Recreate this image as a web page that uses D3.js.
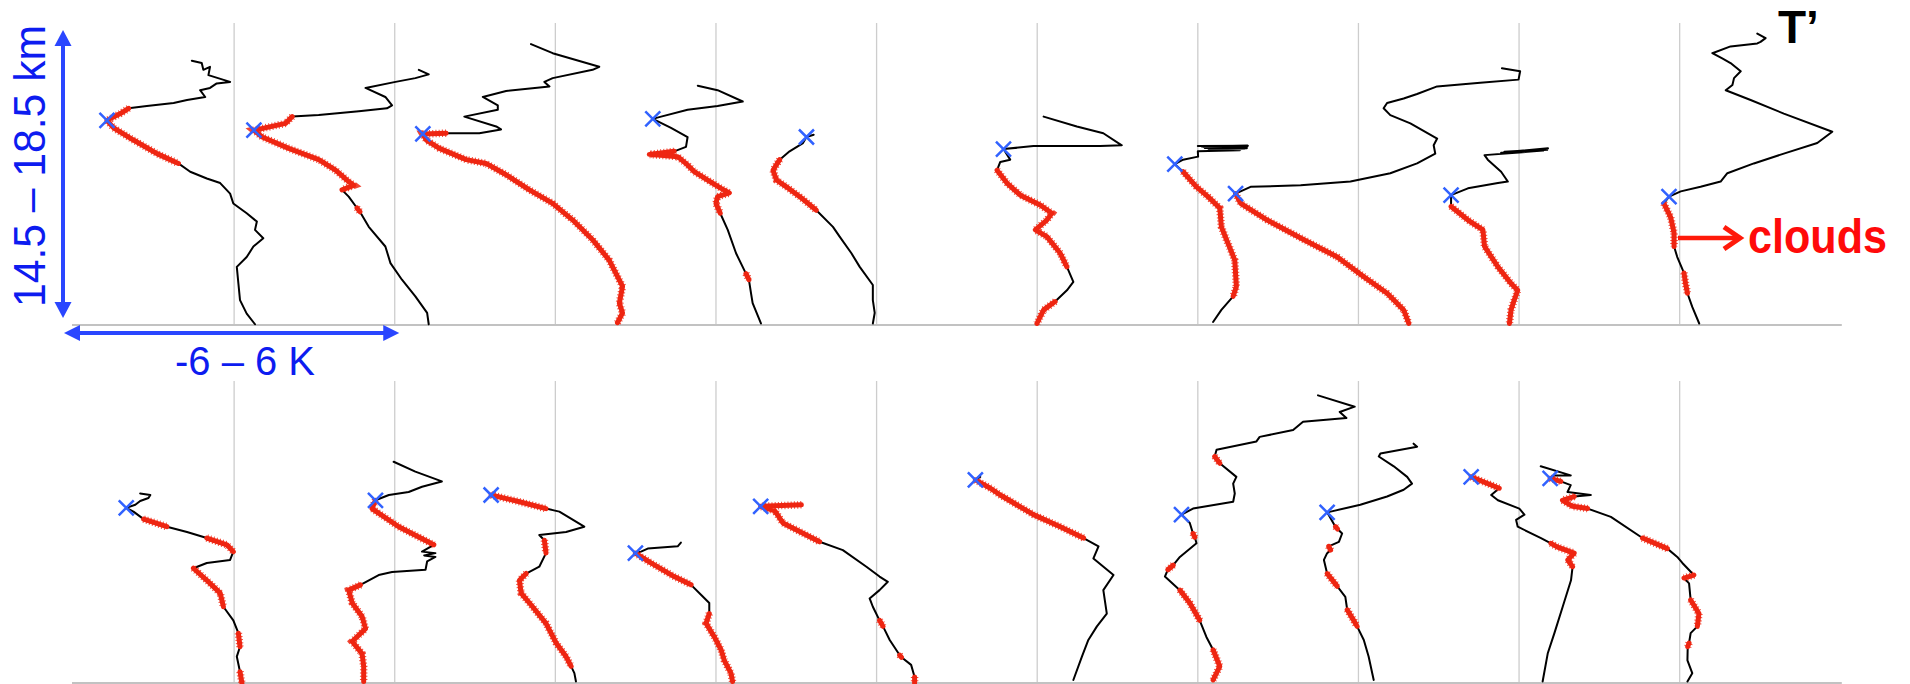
<!DOCTYPE html>
<html>
<head>
<meta charset="utf-8">
<script src="https://cdn.jsdelivr.net/npm/d3@7"></script>
<style>
  html, body { margin: 0; padding: 0; background: #fff; overflow: hidden; }
  text { font-family: "Liberation Sans", Arial, Helvetica, sans-serif; }
</style>
</head>
<body>
<svg id="chart" width="1910" height="684"></svg>
<script>
// Temperature perturbation profiles: each point is [T' (K), altitude (km), cloud flag].
// Profiles are offset horizontally by 6 K steps; the blue cross marks the tropopause.

// ---- upper row ----
const top01 = [[-1.58,18.00,0],[-1.21,17.97,0],[-1.15,17.88,0],[-0.90,17.92,0],[-0.96,17.81,0],[-0.15,17.72,0],[-0.65,17.70,0],[-0.90,17.64,0],[-1.27,17.61,0],[-1.08,17.52,0],[-1.76,17.48,0],[-2.26,17.44,0],[-3.26,17.40,0],[-3.94,17.37,1],[-4.25,17.30,1],[-4.75,17.21,1],[-4.50,17.11,1],[-3.76,16.95,1],[-2.88,16.77,1],[-2.08,16.64,1],[-1.64,16.53,0],[-1.02,16.44,0],[-0.52,16.38,0],[-0.15,16.24,0],[-0.03,16.11,0],[0.47,15.98,0],[0.85,15.87,0],[0.78,15.76,0],[1.09,15.65,0],[0.72,15.54,0],[0.47,15.40,0],[0.10,15.27,0],[0.16,15.05,0],[0.22,14.83,0],[0.47,14.65,0],[0.78,14.51,0]];
const top02 = [[0.90,17.88,0],[1.27,17.82,0],[0.77,17.77,0],[0.03,17.72,0],[-1.09,17.64,0],[-0.35,17.52,0],[-0.10,17.41,0],[-0.29,17.37,0],[-1.34,17.33,0],[-2.84,17.28,0],[-3.83,17.26,1],[-4.08,17.17,1],[-5.26,17.08,1],[-4.95,16.99,1],[-3.96,16.84,1],[-2.84,16.69,1],[-2.21,16.55,1],[-1.72,16.40,1],[-1.53,16.35,1],[-1.97,16.29,1],[-1.72,16.20,0],[-1.41,16.05,1],[-1.30,16.00,1],[-0.97,15.80,0],[-0.35,15.54,0],[-0.16,15.32,0],[0.27,15.10,0],[0.77,14.88,0],[1.21,14.66,0],[1.27,14.51,0]];
const top03 = [[-0.91,18.22,0],[-0.10,18.10,0],[1.64,17.92,0],[1.39,17.88,0],[-0.10,17.77,0],[-0.41,17.72,0],[-0.22,17.66,0],[-1.84,17.60,0],[-2.71,17.52,0],[-2.15,17.41,0],[-2.15,17.35,0],[-3.40,17.26,0],[-2.21,17.13,0],[-2.03,17.09,0],[-2.84,17.04,0],[-4.08,17.04,1],[-4.95,17.03,1],[-4.82,16.95,1],[-4.33,16.84,1],[-3.33,16.69,1],[-2.59,16.64,1],[-1.84,16.49,1],[-0.97,16.29,1],[-0.10,16.11,1],[0.65,15.89,1],[1.39,15.63,1],[2.01,15.36,1],[2.51,15.01,1],[2.39,14.79,1],[2.51,14.66,1],[2.32,14.53,1]];
const top04 = [[-0.68,17.67,0],[0.06,17.61,0],[1.00,17.46,0],[0.06,17.40,0],[-1.06,17.35,0],[-2.05,17.26,0],[-2.36,17.23,0],[-1.68,17.11,0],[-1.06,16.99,0],[-1.12,16.86,0],[-1.56,16.80,1],[-2.49,16.76,1],[-1.43,16.73,1],[-1.06,16.62,1],[-0.81,16.53,1],[-0.31,16.42,1],[0.19,16.31,1],[0.50,16.25,1],[0.06,16.20,1],[0.00,16.11,1],[0.16,15.98,1],[0.44,15.76,0],[0.75,15.45,0],[1.12,15.18,1],[1.23,15.10,1],[1.31,14.92,0],[1.37,14.79,0],[1.68,14.52,0]];
const top05 = [[-2.35,17.02,0],[-2.62,16.99,0],[-2.75,16.91,0],[-3.25,16.80,0],[-3.62,16.69,1],[-3.87,16.55,1],[-3.74,16.42,1],[-3.37,16.33,1],[-2.87,16.20,1],[-2.25,16.02,1],[-1.63,15.80,0],[-1.38,15.67,0],[-0.94,15.45,0],[-0.63,15.27,0],[-0.14,15.03,0],[-0.14,14.83,0],[-0.07,14.66,0],[-0.14,14.52,0]];
const top06 = [[0.24,17.26,0],[1.48,17.13,0],[2.47,17.04,0],[3.16,16.88,0],[2.35,16.87,0],[-0.14,16.87,0],[-1.26,16.83,0],[-1.01,16.69,0],[-1.38,16.66,0],[-1.50,16.55,1],[-1.13,16.38,1],[-0.63,16.22,1],[0.11,16.09,1],[0.55,15.98,1],[0.36,15.89,1],[-0.07,15.76,1],[0.36,15.67,1],[0.86,15.45,1],[1.11,15.27,1],[1.35,15.07,0],[1.11,14.96,0],[0.67,14.81,1],[0.24,14.70,1],[-0.01,14.52,1]];
const top07 = [[0.00,16.87,0],[1.87,16.875,0],[0.15,16.865,0],[1.85,16.865,0],[0.20,16.86,0],[1.80,16.855,0],[0.26,16.845,0],[1.83,16.84,0],[0.40,16.835,0],[1.75,16.835,0],[0.40,16.83,0],[1.70,16.83,0],[0.45,16.82,0],[1.57,16.815,0],[0.00,16.80,0],[0.01,16.73,0],[-0.55,16.69,0],[-0.86,16.63,0],[-0.55,16.53,1],[-0.05,16.33,1],[0.38,16.20,1],[0.82,16.05,1],[0.88,15.80,1],[1.07,15.63,1],[1.38,15.36,1],[1.44,15.01,1],[1.32,14.88,1],[0.88,14.70,0],[0.57,14.54,0]];
const top08 = [[5.36,17.90,0],[6.04,17.86,0],[5.98,17.75,0],[4.55,17.71,0],[2.94,17.66,0],[2.19,17.56,0],[1.69,17.50,0],[1.07,17.44,0],[0.94,17.37,0],[1.19,17.28,0],[1.94,17.17,0],[2.94,16.97,0],[2.81,16.88,0],[2.87,16.77,0],[2.19,16.64,0],[1.19,16.51,0],[-0.30,16.40,0],[-2.16,16.35,0],[-4.03,16.33,0],[-4.59,16.24,1],[-4.40,16.11,1],[-3.41,15.89,1],[-2.04,15.63,1],[-0.79,15.40,1],[0.20,15.14,1],[1.07,14.92,1],[1.69,14.70,1],[1.88,14.52,1]];
const top09 = [[1.08,16.84,0],[-0.49,16.79,0],[1.01,16.825,0],[-0.55,16.795,0],[1.05,16.82,0],[-0.67,16.78,0],[0.90,16.81,0],[-1.29,16.75,0],[-1.17,16.69,0],[-0.67,16.53,0],[-0.42,16.40,0],[-0.79,16.38,0],[-1.91,16.31,0],[-2.54,16.22,0],[-2.54,16.16,0],[-2.54,16.07,1],[-1.91,15.89,1],[-1.35,15.76,1],[-1.29,15.54,1],[-0.79,15.27,1],[-0.30,15.05,1],[-0.05,14.96,1],[-0.18,14.83,1],[-0.30,14.70,1],[-0.36,14.52,1]];
const top10 = [[2.90,18.36,0],[3.21,18.30,0],[3.02,18.25,0],[2.90,18.23,0],[1.90,18.19,0],[1.22,18.10,0],[1.59,18.03,0],[1.90,17.97,0],[2.28,17.86,0],[2.03,17.77,0],[1.97,17.68,0],[1.72,17.61,0],[2.65,17.48,0],[3.89,17.30,0],[5.70,17.06,0],[5.14,16.91,0],[3.89,16.77,0],[2.77,16.64,0],[1.78,16.51,0],[1.53,16.40,0],[0.78,16.33,0],[0.04,16.27,0],[-0.40,16.20,0],[-0.59,16.11,1],[-0.34,15.93,1],[-0.21,15.72,1],[-0.21,15.54,1],[-0.09,15.40,0],[0.16,15.19,1],[0.22,15.05,1],[0.29,14.92,1],[0.47,14.74,0],[0.73,14.52,0]];

// ---- lower row ----
const bot01 = [[-3.51,17.01,0],[-3.13,16.99,0],[-3.20,16.95,0],[-3.51,16.91,0],[-3.69,16.86,0],[-4.03,16.82,0],[-3.76,16.77,0],[-3.38,16.67,1],[-2.51,16.57,1],[-1.76,16.50,0],[-1.02,16.42,1],[-0.27,16.33,1],[-0.03,16.24,1],[-0.15,16.13,0],[-1.02,16.09,0],[-1.52,16.02,1],[-1.02,15.86,1],[-0.52,15.69,1],[-0.40,15.51,1],[-0.03,15.33,0],[0.16,15.16,1],[0.22,14.98,1],[0.10,14.85,0],[0.22,14.65,1],[0.29,14.50,1]];
const bot02 = [[-0.04,17.43,0],[0.77,17.30,0],[1.76,17.17,0],[1.02,17.10,0],[0.52,17.03,0],[-0.22,16.99,0],[-0.72,16.92,1],[-0.85,16.81,1],[0.15,16.57,1],[1.46,16.33,1],[1.02,16.24,0],[1.52,16.22,0],[1.10,16.19,0],[1.52,16.17,0],[1.21,16.11,0],[1.15,16.00,0],[-0.10,15.97,0],[-0.60,15.93,0],[-1.28,15.80,1],[-1.72,15.73,1],[-1.59,15.56,1],[-1.22,15.38,1],[-1.09,15.22,1],[-1.59,15.05,1],[-1.22,14.89,1],[-1.16,14.72,1],[-1.16,14.52,1]];
const bot03 = [[-2.40,16.99,1],[-1.34,16.90,1],[-0.35,16.81,1],[0.15,16.77,0],[1.08,16.57,0],[0.40,16.50,0],[-0.60,16.46,0],[-0.41,16.39,1],[-0.35,16.22,1],[-0.60,16.04,0],[-1.09,15.95,1],[-1.34,15.86,1],[-1.28,15.69,1],[-0.85,15.51,1],[-0.35,15.29,1],[0.03,15.03,1],[0.40,14.85,1],[0.59,14.72,1],[0.71,14.63,0],[0.77,14.52,0]];
const bot04 = [[-1.31,16.36,0],[-1.43,16.31,0],[-2.55,16.28,0],[-2.80,16.24,0],[-3.01,16.22,1],[-2.43,16.09,1],[-1.56,15.91,1],[-0.93,15.80,1],[-0.56,15.67,0],[-0.25,15.56,0],[-0.25,15.42,1],[-0.37,15.29,1],[-0.06,15.11,1],[0.19,14.94,1],[0.31,14.80,1],[0.56,14.63,1],[0.62,14.52,1]];
const bot05 = [[-2.81,16.86,1],[-4.33,16.84,1],[-3.80,16.78,1],[-3.50,16.62,1],[-2.13,16.37,1],[-1.26,16.26,0],[-0.38,16.04,0],[0.11,15.91,0],[0.42,15.84,0],[0.11,15.73,0],[-0.26,15.62,0],[-0.14,15.51,0],[0.11,15.33,1],[0.24,15.25,1],[0.49,15.07,0],[0.86,14.87,1],[0.93,14.84,1],[1.29,14.74,0],[1.42,14.58,1],[1.42,14.50,1]];
const bot06 = [[-2.13,17.23,0],[-2.31,17.19,1],[-1.75,17.08,1],[-1.38,16.99,1],[-0.14,16.73,1],[0.86,16.57,1],[1.73,16.42,1],[2.29,16.31,0],[2.10,16.15,0],[2.85,15.93,0],[2.47,15.73,0],[2.60,15.42,0],[2.23,15.25,0],[1.91,15.07,0],[1.67,14.85,0],[1.35,14.54,0]];
const bot07 = [[4.49,18.31,0],[5.86,18.16,0],[5.30,18.09,0],[5.55,18.01,0],[3.93,17.96,0],[3.56,17.85,0],[2.31,17.76,0],[2.19,17.70,0],[0.70,17.59,0],[0.63,17.50,1],[0.82,17.41,1],[1.44,17.23,0],[1.32,17.14,0],[1.38,17.01,0],[1.32,16.90,0],[-0.18,16.81,0],[-0.61,16.73,0],[-0.30,16.62,0],[-0.18,16.48,1],[-0.11,16.43,1],[-0.05,16.35,0],[-0.67,16.17,0],[-0.92,16.06,1],[-1.12,16.00,1],[-1.23,15.91,0],[-0.67,15.73,1],[-0.30,15.56,1],[0.07,15.33,1],[0.32,15.11,0],[0.57,14.94,1],[0.82,14.72,1],[0.57,14.54,1]];
const bot08 = [[2.06,17.67,0],[2.19,17.63,0],[0.82,17.54,0],[0.76,17.50,0],[1.32,17.37,0],[1.82,17.23,0],[2.00,17.14,0],[1.69,17.06,0],[1.07,16.97,0],[0.07,16.86,0],[-1.04,16.77,0],[-1.17,16.76,0],[-0.86,16.57,1],[-0.78,16.54,1],[-0.61,16.48,0],[-0.73,16.37,0],[-1.11,16.31,1],[-1.04,16.26,1],[-1.17,16.22,0],[-1.29,16.13,0],[-1.17,15.95,1],[-0.79,15.78,1],[-0.49,15.64,0],[-0.42,15.47,1],[-0.18,15.33,1],[-0.05,15.25,1],[0.20,15.07,0],[0.38,14.85,0],[0.57,14.54,0]];
const bot09 = [[-1.72,17.26,0],[-1.79,17.23,1],[-0.74,17.08,1],[-1.04,16.99,0],[-0.79,16.92,0],[0.01,16.81,0],[0.20,16.73,0],[-0.11,16.66,0],[-0.05,16.57,0],[0.82,16.42,0],[1.19,16.35,1],[1.44,16.30,1],[2.06,16.22,1],[1.82,16.13,1],[2.00,16.04,1],[1.94,15.86,0],[1.63,15.51,0],[1.32,15.16,0],[1.07,14.89,0],[0.88,14.52,0]];
const bot10 = [[-5.19,17.37,0],[-4.07,17.25,0],[-4.69,17.25,0],[-4.84,17.21,1],[-4.44,17.17,1],[-4.07,17.12,0],[-4.19,17.03,0],[-3.32,16.99,0],[-3.94,16.97,1],[-4.38,16.92,1],[-4.00,16.84,1],[-3.44,16.81,1],[-2.57,16.70,0],[-1.39,16.42,1],[-0.46,16.28,1],[-0.09,16.17,0],[0.10,16.09,0],[0.53,15.93,1],[0.16,15.89,1],[0.35,15.82,0],[0.41,15.60,1],[0.72,15.42,1],[0.66,15.25,1],[0.41,15.16,0],[0.35,15.03,1],[0.30,14.98,1],[0.29,14.80,0],[0.47,14.63,0],[0.29,14.52,0]];

// Tropopause altitude (km) of each profile
const topTropopause = [17.21, 17.08, 17.03, 17.23, 16.99, 16.83, 16.63, 16.24, 16.22, 16.20];
const bottomTropopause = [16.82, 16.92, 16.99, 16.22, 16.84, 17.19, 16.73, 16.76, 17.23, 17.21];

// Horizontal offset (K) at which each profile is centred; grid lines sit here
const profileCenters = [6, 12, 18, 24, 30, 36, 42, 48, 54, 60];
const offsetDomain = [0, 66];
const altitudeDomain = [14.5, 18.5];

const heightLabel = "14.5 \u2013 18.5 km";
const widthLabel = "-6 \u2013 6 K";
const titleLabel = "T\u2019";
const cloudLabel = "clouds";

const topRow = [top01, top02, top03, top04, top05, top06, top07, top08, top09, top10];
const bottomRow = [bot01, bot02, bot03, bot04, bot05, bot06, bot07, bot08, bot09, bot10];

// ---- scales ----
const x = d3.scaleLinear().domain(offsetDomain).range([73.5, 1840.3]);
const yTop = d3.scaleLinear().domain(altitudeDomain).range([325, 23]);
const yBottom = d3.scaleLinear().domain(altitudeDomain).range([683, 381]);

const svg = d3.select("#chart");
svg.append("rect").attr("width", 1910).attr("height", 684).attr("fill", "#fff");

const rows = [
  { profiles: topRow, trop: topTropopause, y: yTop },
  { profiles: bottomRow, trop: bottomTropopause, y: yBottom }
];

const BLUE_X = "#3162ff";
const CLOUD_RED = "#ee2612";

rows.forEach(row => {
  const g = svg.append("g");
  const y = row.y;

  // vertical guide lines at each profile centre
  g.selectAll("line.grid").data(profileCenters).join("line")
    .attr("class", "grid")
    .attr("x1", d => x(d)).attr("x2", d => x(d))
    .attr("y1", y(altitudeDomain[1])).attr("y2", y(altitudeDomain[0]))
    .attr("stroke", "#cdcdcd").attr("stroke-width", 1.3);

  // base line
  g.append("line")
    .attr("x1", x(offsetDomain[0]) - 1.5).attr("x2", x(offsetDomain[1]) + 1.5)
    .attr("y1", y(altitudeDomain[0])).attr("y2", y(altitudeDomain[0]))
    .attr("stroke", "#c2c2c2").attr("stroke-width", 2);

  row.profiles.forEach((prof, i) => {
    const c = profileCenters[i];
    const line = d3.line().x(d => x(c + d[0])).y(d => y(d[1]));
    const cloudLine = d3.line().defined(d => d[2] === 1).x(d => x(c + d[0])).y(d => y(d[1]));

    g.append("path").attr("d", line(prof))
      .attr("fill", "none").attr("stroke", "#000").attr("stroke-width", 2)
      .attr("stroke-linejoin", "round").attr("stroke-linecap", "round");

    // cloud-flagged sections: solid band plus short cross ticks
    g.append("path").attr("d", cloudLine(prof))
      .attr("fill", "none").attr("stroke", CLOUD_RED).attr("stroke-width", 5)
      .attr("stroke-linejoin", "round").attr("stroke-linecap", "round");
    g.append("path").attr("d", cloudLine(prof))
      .attr("fill", "none").attr("stroke", CLOUD_RED).attr("stroke-width", 7.5)
      .attr("stroke-opacity", 0.85)
      .attr("stroke-dasharray", "1 2.2");

    // tropopause marker
    const tp = d3.least(prof, p => Math.abs(p[1] - row.trop[i]));
    const px = x(c + tp[0]), py = y(tp[1]), h = 7.5;
    g.append("path")
      .attr("d", `M${px - h},${py - h}L${px + h},${py + h}M${px - h},${py + h}L${px + h},${py - h}`)
      .attr("stroke", BLUE_X).attr("stroke-width", 2.5).attr("fill", "none");
  });
});

// ---- annotations ----
const ANN_BLUE = "#2a46ff";
const TEXT_BLUE = "#0d1cf0";

function arrowV(xp, y1, y2) {
  const head = 16, half = 8.5;
  svg.append("line").attr("x1", xp).attr("x2", xp).attr("y1", y1 + head - 2).attr("y2", y2 - head + 2)
    .attr("stroke", ANN_BLUE).attr("stroke-width", 4);
  svg.append("path").attr("d", `M${xp},${y1}L${xp - half},${y1 + head}L${xp + half},${y1 + head}Z`).attr("fill", ANN_BLUE);
  svg.append("path").attr("d", `M${xp},${y2}L${xp - half},${y2 - head}L${xp + half},${y2 - head}Z`).attr("fill", ANN_BLUE);
}
function arrowH(yp, x1, x2) {
  const head = 16, half = 8;
  svg.append("line").attr("y1", yp).attr("y2", yp).attr("x1", x1 + head - 2).attr("x2", x2 - head + 2)
    .attr("stroke", ANN_BLUE).attr("stroke-width", 4);
  svg.append("path").attr("d", `M${x1},${yp}L${x1 + head},${yp - half}L${x1 + head},${yp + half}Z`).attr("fill", ANN_BLUE);
  svg.append("path").attr("d", `M${x2},${yp}L${x2 - head},${yp - half}L${x2 - head},${yp + half}Z`).attr("fill", ANN_BLUE);
}

const axisX = x(offsetDomain[0]) - 10.5;
arrowV(axisX, yTop(altitudeDomain[1]) + 7, yTop(altitudeDomain[0]) - 7);
arrowH(yTop(altitudeDomain[0]) + 8, x(offsetDomain[0]) - 9.5, x(profileCenters[1]) + 4.5);

svg.append("text")
  .attr("transform", `translate(45,${(yTop(altitudeDomain[1]) + yTop(altitudeDomain[0])) / 2 - 8}) rotate(-90)`)
  .attr("text-anchor", "middle")
  .attr("font-size", 44)
  .attr("textLength", 282).attr("lengthAdjust", "spacingAndGlyphs")
  .attr("fill", TEXT_BLUE)
  .text(heightLabel);

svg.append("text")
  .attr("x", 175).attr("y", 375)
  .attr("font-size", 40)
  .attr("textLength", 140).attr("lengthAdjust", "spacingAndGlyphs")
  .attr("fill", TEXT_BLUE)
  .text(widthLabel);

svg.append("text")
  .attr("x", 1778).attr("y", 43)
  .attr("font-size", 46).attr("font-weight", "bold")
  .attr("fill", "#000")
  .text(titleLabel);

// cloud pointer
const cloudY = 238;
svg.append("line").attr("x1", 1678).attr("x2", 1739).attr("y1", cloudY).attr("y2", cloudY)
  .attr("stroke", "#ff1a0a").attr("stroke-width", 4.5);
svg.append("path").attr("d", `M1724,${cloudY - 11}L1740,${cloudY}L1724,${cloudY + 11}`)
  .attr("fill", "none").attr("stroke", "#ff1a0a").attr("stroke-width", 5)
  .attr("stroke-linejoin", "miter");

svg.append("text")
  .attr("x", 1748).attr("y", 253)
  .attr("font-size", 48).attr("font-weight", "bold")
  .attr("textLength", 139).attr("lengthAdjust", "spacingAndGlyphs")
  .attr("fill", "#ff0a0a")
  .text(cloudLabel);
</script>
</body>
</html>
